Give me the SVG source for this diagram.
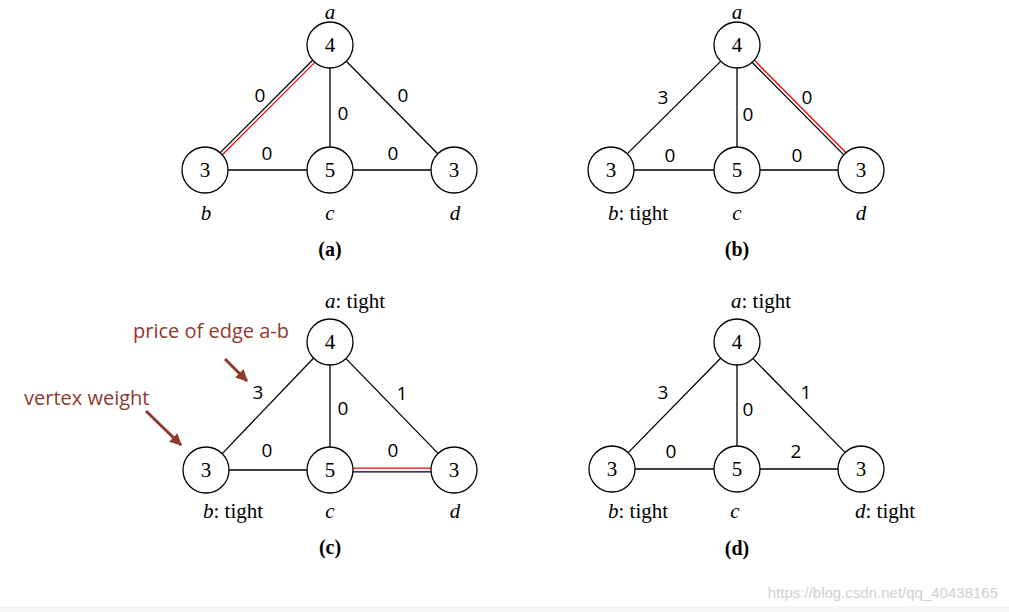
<svg xmlns="http://www.w3.org/2000/svg" width="1009" height="612" viewBox="0 0 1009 612">
<defs>
<style>
.n circle{fill:#fff;stroke:#000;stroke-width:1.3}
.num{font-family:"Liberation Serif",serif;font-size:21px;text-anchor:middle;fill:#000}
.lbl{font-family:"Liberation Serif",serif;font-size:21px;fill:#000}
.it{font-style:italic}
.cap{font-family:"Liberation Serif",serif;font-size:20px;font-weight:bold;text-anchor:middle;fill:#000}
.el{font-family:"Open Sans","DejaVu Sans",sans-serif;font-size:19px;text-anchor:middle;fill:#000}
.e{stroke:#000;stroke-width:1.3;fill:none}
.r{stroke:#ff0000;stroke-width:1.3;fill:none}
.ann{font-family:"Open Sans","DejaVu Sans",sans-serif;font-size:20px;fill:#8e3a2e}
.arr{stroke:#8e3a2e;stroke-width:3;fill:none}
</style>
<marker id="ah" viewBox="0 0 10 10" refX="9" refY="5" markerWidth="4" markerHeight="4" orient="auto" markerUnits="strokeWidth">
<path d="M0,0 L10,5 L0,10 z" fill="#8e3a2e"/>
</marker>
</defs>
<rect width="1009" height="612" fill="#fff"/>
<rect x="0" y="606" width="1009" height="6" fill="#f4f5f6"/>

<g id="connectors">
<!-- panel a -->
<line class="e" x1="312.6" y1="60.2" x2="220.2" y2="152.6"/>
<line class="r" x1="314.8" y1="62.4" x2="222.4" y2="154.8"/>
<line class="e" x1="330" y1="68" x2="330" y2="147"/>
<line class="e" x1="346.3" y1="61.3" x2="437.7" y2="153.7"/>
<line class="e" x1="228" y1="170" x2="307" y2="170"/>
<line class="e" x1="353" y1="170" x2="431" y2="170"/>
<!-- panel b -->
<line class="e" x1="720.6" y1="61.4" x2="627.4" y2="153.6"/>
<line class="e" x1="737" y1="68" x2="737" y2="147"/>
<line class="e" x1="752.2" y1="62.5" x2="843.8" y2="154.9"/>
<line class="r" x1="754.4" y1="60.3" x2="846" y2="152.7"/>
<line class="e" x1="634" y1="170" x2="714" y2="170"/>
<line class="e" x1="760" y1="170" x2="838" y2="170"/>
<!-- panel c -->
<line class="e" x1="313.4" y1="358.2" x2="222.2" y2="453.6"/>
<line class="e" x1="330" y1="365" x2="330" y2="447"/>
<line class="e" x1="346" y1="358.6" x2="438" y2="453.4"/>
<line class="e" x1="229" y1="470" x2="307" y2="470"/>
<line class="r" x1="353" y1="468.2" x2="431" y2="468.2"/>
<line class="e" x1="353" y1="471.8" x2="431" y2="471.8"/>
<!-- panel d -->
<line class="e" x1="720.6" y1="358.3" x2="628.2" y2="452.6"/>
<line class="e" x1="737" y1="365" x2="737" y2="446"/>
<line class="e" x1="753" y1="358.6" x2="845" y2="452.4"/>
<line class="e" x1="635" y1="469" x2="714" y2="469"/>
<line class="e" x1="760" y1="469" x2="838" y2="469"/>
<!-- annotation arrows -->
<line class="arr" x1="225" y1="359" x2="247" y2="381" marker-end="url(#ah)"/>
<line class="arr" x1="146" y1="411" x2="181" y2="445" marker-end="url(#ah)"/>
</g>

<!-- edge labels -->
<g id="edge-labels">
<text class="el" x="260" y="102">0</text>
<text class="el" x="343" y="120">0</text>
<text class="el" x="403" y="102">0</text>
<text class="el" x="267" y="160">0</text>
<text class="el" x="393" y="160">0</text>

<text class="el" x="663" y="104">3</text>
<text class="el" x="748" y="121">0</text>
<text class="el" x="807" y="104">0</text>
<text class="el" x="670" y="162">0</text>
<text class="el" x="797" y="162">0</text>

<text class="el" x="258" y="399">3</text>
<text class="el" x="343" y="415">0</text>
<text class="el" x="402" y="400">1</text>
<text class="el" x="267" y="457">0</text>
<text class="el" x="393" y="457">0</text>

<text class="el" x="663" y="399">3</text>
<text class="el" x="748" y="416">0</text>
<text class="el" x="806" y="399">1</text>
<text class="el" x="671" y="458">0</text>
<text class="el" x="796" y="458">2</text>
</g>

<!-- panel a nodes -->
<g id="a1" class="n"><circle cx="330" cy="45" r="23"/><text class="num" x="330" y="52">4</text><text class="lbl it" x="330" y="19" text-anchor="middle">a</text></g>
<g id="b1" class="n"><circle cx="205" cy="170" r="23"/><text class="num" x="205" y="177">3</text><text class="lbl it" x="206" y="220" text-anchor="middle">b</text></g>
<g id="c1" class="n"><circle cx="330" cy="170" r="23"/><text class="num" x="330" y="177">5</text><text class="lbl it" x="330" y="220" text-anchor="middle">c</text></g>
<g id="d1" class="n"><circle cx="454" cy="170" r="23"/><text class="num" x="454" y="177">3</text><text class="lbl it" x="455" y="220" text-anchor="middle">d</text></g>
<text class="cap" x="330" y="256">(a)</text>

<!-- panel b nodes -->
<g id="a2" class="n"><circle cx="737" cy="45" r="23"/><text class="num" x="737" y="52">4</text><text class="lbl it" x="737" y="19" text-anchor="middle">a</text></g>
<g id="b2" class="n"><circle cx="611" cy="170" r="23"/><text class="num" x="611" y="177">3</text><text class="lbl" x="608" y="220"><tspan class="it">b</tspan>: tight</text></g>
<g id="c2" class="n"><circle cx="737" cy="170" r="23"/><text class="num" x="737" y="177">5</text><text class="lbl it" x="737" y="220" text-anchor="middle">c</text></g>
<g id="d2" class="n"><circle cx="861" cy="170" r="23"/><text class="num" x="861" y="177">3</text><text class="lbl it" x="861" y="220" text-anchor="middle">d</text></g>
<text class="cap" x="737" y="256">(b)</text>

<!-- panel c nodes -->
<g id="a3" class="n"><circle cx="330" cy="342" r="23"/><text class="num" x="330" y="349">4</text><text class="lbl" x="325" y="308"><tspan class="it">a</tspan>: tight</text></g>
<g id="b3" class="n"><circle cx="206" cy="470" r="23"/><text class="num" x="206" y="477">3</text><text class="lbl" x="203" y="518"><tspan class="it">b</tspan>: tight</text></g>
<g id="c3" class="n"><circle cx="330" cy="470" r="23"/><text class="num" x="330" y="477">5</text><text class="lbl it" x="330" y="518" text-anchor="middle">c</text></g>
<g id="d3" class="n"><circle cx="454" cy="470" r="23"/><text class="num" x="454" y="477">3</text><text class="lbl it" x="455" y="518" text-anchor="middle">d</text></g>
<text class="cap" x="330" y="554">(c)</text>

<!-- panel d nodes -->
<g id="a4" class="n"><circle cx="737" cy="342" r="23"/><text class="num" x="737" y="349">4</text><text class="lbl" x="731" y="308"><tspan class="it">a</tspan>: tight</text></g>
<g id="b4" class="n"><circle cx="612" cy="469" r="23"/><text class="num" x="612" y="476">3</text><text class="lbl" x="608" y="518"><tspan class="it">b</tspan>: tight</text></g>
<g id="c4" class="n"><circle cx="737" cy="469" r="23"/><text class="num" x="737" y="476">5</text><text class="lbl it" x="735" y="518" text-anchor="middle">c</text></g>
<g id="d4" class="n"><circle cx="861" cy="469" r="23"/><text class="num" x="861" y="476">3</text><text class="lbl" x="855" y="518"><tspan class="it">d</tspan>: tight</text></g>
<text class="cap" x="737" y="555">(d)</text>

<g id="annotations">
<text class="ann" x="133" y="338">price of edge a-b</text>
<text class="ann" x="24" y="405">vertex weight</text>
</g>
<text x="998" y="598" text-anchor="end" font-family="Liberation Sans, Arial, sans-serif" font-size="15" fill="#d0d0d0">https://blog.csdn.net/qq_40438165</text>
</svg>
